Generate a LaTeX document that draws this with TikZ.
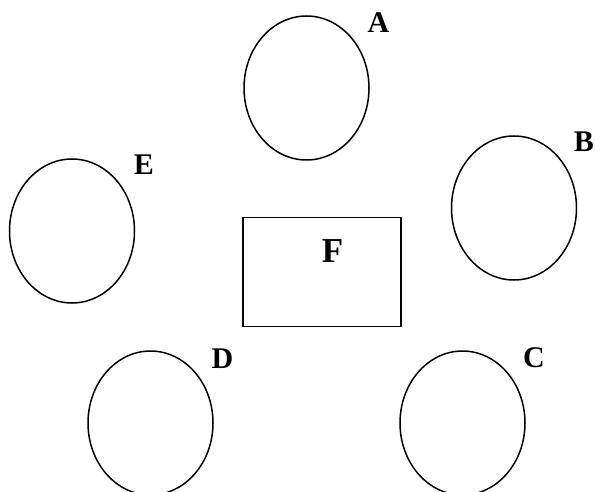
\documentclass[tikz,border=0pt]{standalone}
\usepackage{fontspec}
\setmainfont{Liberation Serif}
\usetikzlibrary{shapes.geometric}

\tikzset{
  blob/.style={draw, ellipse, line width=1.5pt, minimum width=125pt, minimum height=144pt, inner sep=0pt},
  tag/.style={font=\fontsize{30}{30}\selectfont\bfseries, inner sep=0pt}
}

\begin{document}
\begin{tikzpicture}[x=1pt,y=-1pt]
  \useasboundingbox (0,0) rectangle (595,492);
  % the five round sets
  \node[blob] (A) at (306.5,88) {};
  \node[blob] (B) at (514,208) {};
  \node[blob] (E) at (72,231) {};
  \node[blob] (D) at (150.5,423) {};
  \node[blob] (C) at (462.5,423) {};
  % the box in the middle
  \node[draw, line width=1.5pt, minimum width=158pt, minimum height=109pt, inner sep=0pt] (F) at (322,272) {};
  % letters
  \node[tag] (labA) at (378.5,23) {A};
  \node[tag] (labB) at (584,142) {B};
  \node[tag] (labE) at (144,165) {E};
  \node[tag] (labD) at (222.5,359) {D};
  \node[tag] (labC) at (534,358) {C};
  \node[tag, font=\fontsize{35}{35}\selectfont\bfseries] (labF) at (332.5,251) {F};
\end{tikzpicture}
\end{document}
